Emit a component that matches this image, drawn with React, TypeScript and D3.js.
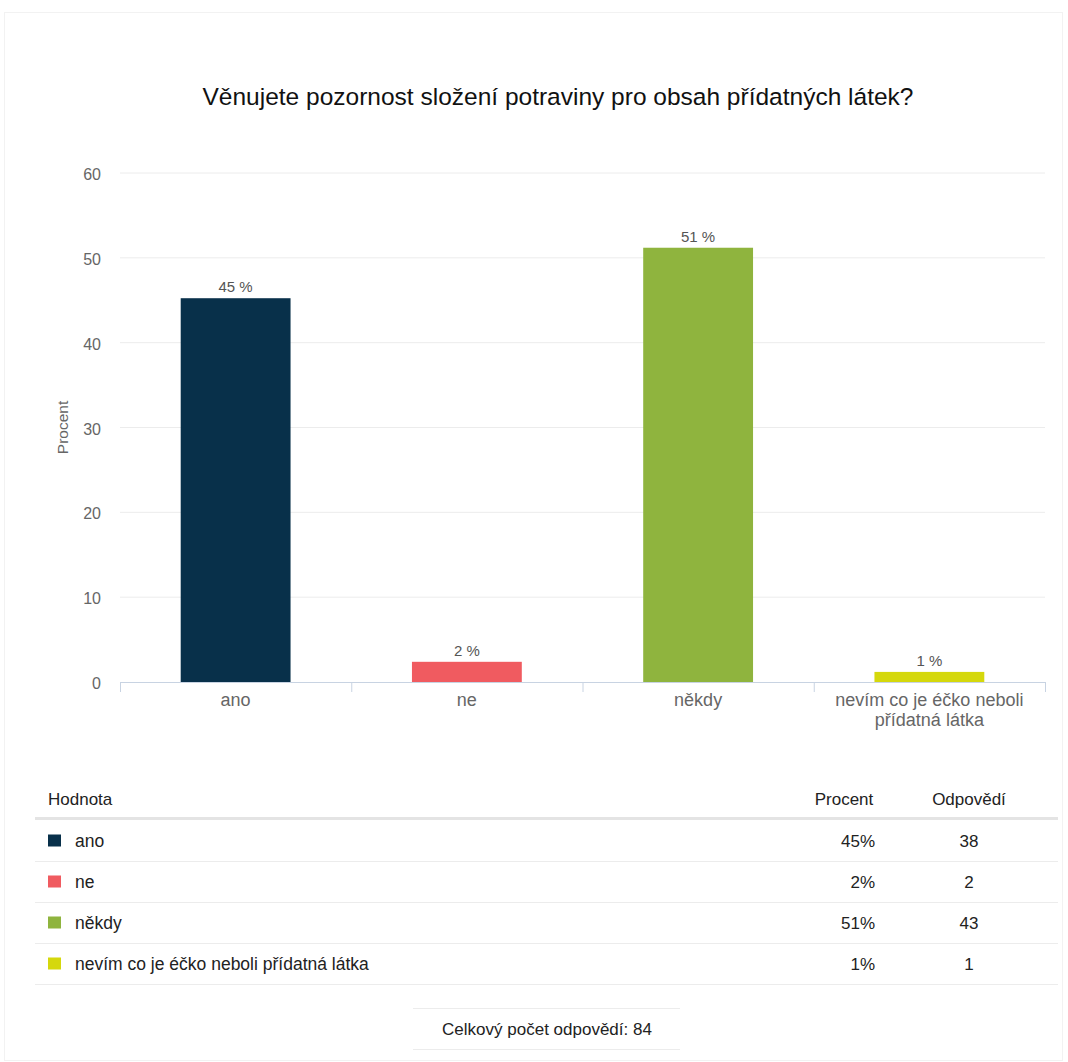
import React from "react";
import * as d3 from "d3";

const TITLE = "Věnujete pozornost složení potraviny pro obsah přídatných látek?";
const categories = ["ano", "ne", "někdy", "nevím co je éčko neboli přídatná látka"];
const categoryLines = [["ano"], ["ne"], ["někdy"], ["nevím co je éčko neboli", "přídatná látka"]];
const percentValues = [45.24, 2.38, 51.19, 1.19];
const percentLabels = ["45 %", "2 %", "51 %", "1 %"];
const tablePercent = ["45%", "2%", "51%", "1%"];
const responses = [38, 2, 43, 1];
const colors = ["#08304a", "#f05b60", "#8fb43e", "#d5d80c"];
const yTicks = [0, 10, 20, 30, 40, 50, 60];
const totalLabel = "Celkový počet odpovědí: 84";

const W = 1068;
const H = 1062;
const FONT = "'Liberation Sans', Arial, sans-serif";

export default function App() {
  const left = 120, right = 1045, top = 173, bottom = 682;
  const x = d3.scaleBand<string>().domain(categories).range([left, right]).paddingInner(0.525).paddingOuter(0.2625);
  const xOuter = d3.scaleBand<string>().domain(categories).range([left, right]);
  const y = d3.scaleLinear().domain([0, 60]).range([bottom, top]);

  const rowY0 = 820;
  const rowH = 41;
  const fs = 17;

  return (
    <svg width={W} height={H} style={{ position: "absolute", left: 0, top: 0, background: "#fff" }} fontFamily={FONT}>
      <rect x={4.5} y={12.5} width={W - 10} height={H - 14} fill="#fff" stroke="#f2f2f2" />
      <text x={558} y={105} textAnchor="middle" fontSize={24.5} fill="#111">{TITLE}</text>

      {yTicks.map((t) => (
        <g key={t}>
          {t > 0 && <line x1={left} x2={right} y1={y(t)} y2={y(t)} stroke="#ececec" />}
          <text x={101} y={y(t) + 7} textAnchor="end" fontSize={16} fill="#666">{t}</text>
        </g>
      ))}
      <text transform={`translate(68,${(top + bottom) / 2}) rotate(-90)`} textAnchor="middle" fontSize={15.5} fill="#666">Procent</text>

      {categories.map((c, i) => (
        <g key={c}>
          <rect x={x(c)} y={y(percentValues[i])} width={x.bandwidth()} height={y(0) - y(percentValues[i])} fill={colors[i]} />
          <text x={x(c)! + x.bandwidth() / 2} y={y(percentValues[i]) - 6} textAnchor="middle" fontSize={15} fill="#555">{percentLabels[i]}</text>
          {categoryLines[i].map((ln, j) => (
            <text key={j} x={xOuter(c)! + xOuter.bandwidth() / 2} y={706 + j * 20} textAnchor="middle" fontSize={18} fill="#666">{ln}</text>
          ))}
        </g>
      ))}
      <line x1={left} x2={right} y1={bottom + 0.5} y2={bottom + 0.5} stroke="#c8d3e2" />
      {xOuter.domain().concat(["end"]).map((c, i) => {
        const xx = i < categories.length ? xOuter(c)! : right;
        return <line key={i} x1={xx + 0.5} x2={xx + 0.5} y1={bottom} y2={bottom + 10} stroke="#c8d3e2" />;
      })}

      {/* table */}
      <text x={48} y={805} fontSize={fs} fill="#222">Hodnota</text>
      <text x={844} y={805} textAnchor="middle" fontSize={fs} fill="#222">Procent</text>
      <text x={969} y={805} textAnchor="middle" fontSize={fs} fill="#222">Odpovědí</text>
      <line x1={35} x2={1058} y1={818.5} y2={818.5} stroke="#e4e4e4" strokeWidth={3} />
      {categories.map((c, i) => {
        const cy = rowY0 + i * rowH + rowH / 2;
        return (
          <g key={c}>
            <rect x={48} y={cy - 6} width={13} height={12} fill={colors[i]} />
            <text x={75} y={cy + 6} fontSize={17.5} fill="#222">{c}</text>
            <text x={875} y={cy + 6} textAnchor="end" fontSize={fs} fill="#222">{tablePercent[i]}</text>
            <text x={969} y={cy + 6} textAnchor="middle" fontSize={fs} fill="#222">{responses[i]}</text>
            <line x1={35} x2={1058} y1={rowY0 + (i + 1) * rowH + 0.5} y2={rowY0 + (i + 1) * rowH + 0.5} stroke="#ececec" />
          </g>
        );
      })}

      <line x1={413} x2={680} y1={1008.5} y2={1008.5} stroke="#ececec" />
      <text x={547} y={1035} textAnchor="middle" fontSize={fs} fill="#222">{totalLabel}</text>
      <line x1={413} x2={680} y1={1049.5} y2={1049.5} stroke="#ececec" />
    </svg>
  );
}
